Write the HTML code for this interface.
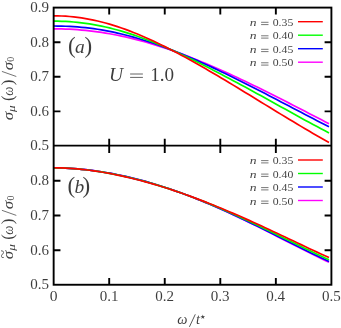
<!DOCTYPE html>
<html><head><meta charset="utf-8"><title>chart</title>
<style>
html,body{margin:0;padding:0;background:#fff;}
svg{display:block;}
text{font-family:"Liberation Serif",serif;fill:#000;}
.tx{opacity:0.76;filter:grayscale(1);}
.i{font-style:italic;}
</style></head><body>
<svg width="341" height="328" viewBox="0 0 341 328">
<rect width="341" height="328" fill="#fff"/>
<path d="M53.65,28.82 L57.64,28.85 L61.63,28.92 L65.62,29.04 L69.61,29.21 L73.60,29.44 L77.59,29.71 L81.58,30.03 L85.57,30.41 L89.57,30.83 L93.56,31.31 L97.55,31.84 L101.54,32.42 L105.53,33.05 L109.52,33.73 L113.51,34.47 L117.50,35.25 L121.49,36.08 L125.48,36.95 L129.47,37.88 L133.46,38.85 L137.45,39.87 L141.44,40.93 L145.43,42.04 L149.42,43.19 L153.41,44.39 L157.41,45.62 L161.40,46.90 L165.39,48.21 L169.38,49.57 L173.37,50.96 L177.36,52.39 L181.35,53.86 L185.34,55.35 L189.33,56.89 L193.32,58.45 L197.31,60.05 L201.30,61.68 L205.29,63.34 L209.28,65.02 L213.27,66.73 L217.26,68.47 L221.25,70.24 L225.24,72.03 L229.24,73.84 L233.23,75.68 L237.22,77.53 L241.21,79.41 L245.20,81.30 L249.19,83.22 L253.18,85.15 L257.17,87.10 L261.16,89.06 L265.15,91.03 L269.14,93.02 L273.13,95.03 L277.12,97.04 L281.11,99.06 L285.10,101.09 L289.09,103.13 L293.08,105.18 L297.08,107.23 L301.07,109.29 L305.06,111.34 L309.05,113.40 L313.04,115.47 L317.03,117.53 L321.02,119.58 L325.01,121.64 L329.00,123.69" fill="none" stroke="#ff00ff" stroke-width="1.7" stroke-linecap="butt"/>
<path d="M53.65,26.00 L57.64,26.03 L61.63,26.10 L65.62,26.23 L69.61,26.41 L73.60,26.65 L77.59,26.94 L81.58,27.29 L85.57,27.70 L89.57,28.16 L93.56,28.69 L97.55,29.27 L101.54,29.92 L105.53,30.62 L109.52,31.38 L113.51,32.20 L117.50,33.07 L121.49,34.00 L125.48,34.98 L129.47,36.02 L133.46,37.11 L137.45,38.25 L141.44,39.45 L145.43,40.69 L149.42,41.98 L153.41,43.31 L157.41,44.70 L161.40,46.12 L165.39,47.59 L169.38,49.09 L173.37,50.64 L177.36,52.22 L181.35,53.84 L185.34,55.49 L189.33,57.17 L193.32,58.89 L197.31,60.64 L201.30,62.41 L205.29,64.21 L209.28,66.04 L213.27,67.89 L217.26,69.77 L221.25,71.67 L225.24,73.58 L229.24,75.52 L233.23,77.47 L237.22,79.44 L241.21,81.43 L245.20,83.43 L249.19,85.44 L253.18,87.46 L257.17,89.50 L261.16,91.55 L265.15,93.60 L269.14,95.66 L273.13,97.73 L277.12,99.81 L281.11,101.89 L285.10,103.97 L289.09,106.06 L293.08,108.15 L297.08,110.24 L301.07,112.32 L305.06,114.41 L309.05,116.49 L313.04,118.57 L317.03,120.64 L321.02,122.71 L325.01,124.76 L329.00,126.81" fill="none" stroke="#0000ff" stroke-width="1.7" stroke-linecap="butt"/>
<path d="M53.65,21.15 L57.64,21.18 L61.63,21.28 L65.62,21.44 L69.61,21.68 L73.60,21.98 L77.59,22.36 L81.58,22.81 L85.57,23.33 L89.57,23.92 L93.56,24.59 L97.55,25.32 L101.54,26.13 L105.53,27.00 L109.52,27.94 L113.51,28.95 L117.50,30.02 L121.49,31.15 L125.48,32.35 L129.47,33.61 L133.46,34.92 L137.45,36.29 L141.44,37.71 L145.43,39.18 L149.42,40.71 L153.41,42.28 L157.41,43.89 L161.40,45.55 L165.39,47.25 L169.38,48.99 L173.37,50.76 L177.36,52.57 L181.35,54.41 L185.34,56.29 L189.33,58.19 L193.32,60.12 L197.31,62.08 L201.30,64.07 L205.29,66.07 L209.28,68.10 L213.27,70.14 L217.26,72.21 L221.25,74.29 L225.24,76.39 L229.24,78.51 L233.23,80.64 L237.22,82.78 L241.21,84.93 L245.20,87.09 L249.19,89.27 L253.18,91.45 L257.17,93.64 L261.16,95.84 L265.15,98.04 L269.14,100.25 L273.13,102.46 L277.12,104.67 L281.11,106.89 L285.10,109.11 L289.09,111.32 L293.08,113.53 L297.08,115.74 L301.07,117.94 L305.06,120.13 L309.05,122.31 L313.04,124.47 L317.03,126.62 L321.02,128.75 L325.01,130.86 L329.00,132.95" fill="none" stroke="#00ff00" stroke-width="1.7" stroke-linecap="butt"/>
<path d="M53.65,15.83 L57.64,15.87 L61.63,16.00 L65.62,16.21 L69.61,16.51 L73.60,16.89 L77.59,17.36 L81.58,17.92 L85.57,18.56 L89.57,19.29 L93.56,20.10 L97.55,20.99 L101.54,21.97 L105.53,23.02 L109.52,24.15 L113.51,25.36 L117.50,26.64 L121.49,27.99 L125.48,29.41 L129.47,30.90 L133.46,32.45 L137.45,34.06 L141.44,35.73 L145.43,37.46 L149.42,39.24 L153.41,41.08 L157.41,42.96 L161.40,44.90 L165.39,46.87 L169.38,48.89 L173.37,50.95 L177.36,53.05 L181.35,55.18 L185.34,57.34 L189.33,59.53 L193.32,61.76 L197.31,64.01 L201.30,66.28 L205.29,68.58 L209.28,70.89 L213.27,73.23 L217.26,75.58 L221.25,77.95 L225.24,80.33 L229.24,82.73 L233.23,85.13 L237.22,87.55 L241.21,89.97 L245.20,92.40 L249.19,94.84 L253.18,97.28 L257.17,99.72 L261.16,102.16 L265.15,104.61 L269.14,107.05 L273.13,109.49 L277.12,111.93 L281.11,114.36 L285.10,116.78 L289.09,119.20 L293.08,121.60 L297.08,124.00 L301.07,126.38 L305.06,128.74 L309.05,131.09 L313.04,133.42 L317.03,135.72 L321.02,138.00 L325.01,140.25 L329.00,142.47" fill="none" stroke="#ff0000" stroke-width="1.7" stroke-linecap="butt"/>
<path d="M53.65,167.95 L57.64,167.98 L61.63,168.07 L65.62,168.21 L69.61,168.41 L73.60,168.66 L77.59,168.96 L81.58,169.32 L85.57,169.72 L89.57,170.18 L93.56,170.68 L97.55,171.24 L101.54,171.84 L105.53,172.49 L109.52,173.18 L113.51,173.92 L117.50,174.71 L121.49,175.54 L125.48,176.42 L129.47,177.33 L133.46,178.30 L137.45,179.30 L141.44,180.35 L145.43,181.43 L149.42,182.56 L153.41,183.73 L157.41,184.94 L161.40,186.19 L165.39,187.48 L169.38,188.81 L173.37,190.17 L177.36,191.58 L181.35,193.02 L185.34,194.49 L189.33,196.00 L193.32,197.55 L197.31,199.13 L201.30,200.74 L205.29,202.39 L209.28,204.07 L213.27,205.78 L217.26,207.52 L221.25,209.29 L225.24,211.08 L229.24,212.91 L233.23,214.76 L237.22,216.63 L241.21,218.53 L245.20,220.44 L249.19,222.38 L253.18,224.34 L257.17,226.31 L261.16,228.30 L265.15,230.30 L269.14,232.31 L273.13,234.34 L277.12,236.37 L281.11,238.40 L285.10,240.44 L289.09,242.48 L293.08,244.52 L297.08,246.55 L301.07,248.57 L305.06,250.58 L309.05,252.58 L313.04,254.57 L317.03,256.53 L321.02,258.47 L325.01,260.38 L329.00,262.26" fill="none" stroke="#ff00ff" stroke-width="1.7" stroke-linecap="butt"/>
<path d="M53.65,167.95 L57.64,167.98 L61.63,168.06 L65.62,168.21 L69.61,168.40 L73.60,168.65 L77.59,168.96 L81.58,169.31 L85.57,169.72 L89.57,170.18 L93.56,170.68 L97.55,171.24 L101.54,171.84 L105.53,172.49 L109.52,173.18 L113.51,173.93 L117.50,174.71 L121.49,175.55 L125.48,176.42 L129.47,177.34 L133.46,178.30 L137.45,179.31 L141.44,180.36 L145.43,181.44 L149.42,182.57 L153.41,183.74 L157.41,184.95 L161.40,186.20 L165.39,187.49 L169.38,188.81 L173.37,190.18 L177.36,191.58 L181.35,193.01 L185.34,194.48 L189.33,195.99 L193.32,197.53 L197.31,199.11 L201.30,200.72 L205.29,202.35 L209.28,204.02 L213.27,205.73 L217.26,207.45 L221.25,209.21 L225.24,211.00 L229.24,212.81 L233.23,214.64 L237.22,216.50 L241.21,218.38 L245.20,220.28 L249.19,222.20 L253.18,224.13 L257.17,226.09 L261.16,228.05 L265.15,230.03 L269.14,232.02 L273.13,234.01 L277.12,236.02 L281.11,238.02 L285.10,240.03 L289.09,242.04 L293.08,244.04 L297.08,246.04 L301.07,248.02 L305.06,250.00 L309.05,251.96 L313.04,253.90 L317.03,255.82 L321.02,257.72 L325.01,259.59 L329.00,261.43" fill="none" stroke="#0000ff" stroke-width="1.7" stroke-linecap="butt"/>
<path d="M53.65,167.87 L57.64,167.90 L61.63,168.00 L65.62,168.15 L69.61,168.36 L73.60,168.62 L77.59,168.94 L81.58,169.32 L85.57,169.74 L89.57,170.22 L93.56,170.74 L97.55,171.32 L101.54,171.94 L105.53,172.61 L109.52,173.32 L113.51,174.08 L117.50,174.88 L121.49,175.72 L125.48,176.61 L129.47,177.53 L133.46,178.50 L137.45,179.51 L141.44,180.55 L145.43,181.64 L149.42,182.76 L153.41,183.92 L157.41,185.12 L161.40,186.35 L165.39,187.62 L169.38,188.92 L173.37,190.26 L177.36,191.63 L181.35,193.04 L185.34,194.47 L189.33,195.94 L193.32,197.44 L197.31,198.98 L201.30,200.54 L205.29,202.13 L209.28,203.75 L213.27,205.40 L217.26,207.07 L221.25,208.77 L225.24,210.50 L229.24,212.25 L233.23,214.02 L237.22,215.82 L241.21,217.64 L245.20,219.48 L249.19,221.33 L253.18,223.21 L257.17,225.10 L261.16,227.00 L265.15,228.92 L269.14,230.85 L273.13,232.78 L277.12,234.73 L281.11,236.68 L285.10,238.64 L289.09,240.60 L293.08,242.56 L297.08,244.51 L301.07,246.46 L305.06,248.41 L309.05,250.34 L313.04,252.26 L317.03,254.16 L321.02,256.05 L325.01,257.91 L329.00,259.75" fill="none" stroke="#00ff00" stroke-width="1.7" stroke-linecap="butt"/>
<path d="M53.65,167.76 L57.64,167.79 L61.63,167.89 L65.62,168.05 L69.61,168.28 L73.60,168.56 L77.59,168.90 L81.58,169.29 L85.57,169.74 L89.57,170.24 L93.56,170.79 L97.55,171.39 L101.54,172.03 L105.53,172.72 L109.52,173.45 L113.51,174.23 L117.50,175.05 L121.49,175.90 L125.48,176.80 L129.47,177.74 L133.46,178.71 L137.45,179.72 L141.44,180.77 L145.43,181.85 L149.42,182.97 L153.41,184.12 L157.41,185.30 L161.40,186.52 L165.39,187.77 L169.38,189.05 L173.37,190.36 L177.36,191.70 L181.35,193.07 L185.34,194.47 L189.33,195.90 L193.32,197.36 L197.31,198.85 L201.30,200.36 L205.29,201.90 L209.28,203.46 L213.27,205.05 L217.26,206.67 L221.25,208.31 L225.24,209.97 L229.24,211.66 L233.23,213.36 L237.22,215.09 L241.21,216.84 L245.20,218.61 L249.19,220.39 L253.18,222.19 L257.17,224.01 L261.16,225.84 L265.15,227.69 L269.14,229.55 L273.13,231.42 L277.12,233.29 L281.11,235.18 L285.10,237.07 L289.09,238.96 L293.08,240.85 L297.08,242.75 L301.07,244.64 L305.06,246.53 L309.05,248.41 L313.04,250.28 L317.03,252.14 L321.02,253.98 L325.01,255.80 L329.00,257.60" fill="none" stroke="#ff0000" stroke-width="1.7" stroke-linecap="butt"/>
<g stroke="#000" stroke-width="1.9" fill="none" stroke-linecap="butt">
<rect x="53.65" y="7.6" width="277.75" height="277.15"/>
<line x1="53.65" y1="145.6" x2="331.4" y2="145.6"/>
<path d="M109.20,7.6 v6.8 M109.20,138.79999999999998 v14.1 M109.20,284.75 v-6.8 M164.75,7.6 v6.8 M164.75,138.79999999999998 v14.1 M164.75,284.75 v-6.8 M220.30,7.6 v6.8 M220.30,138.79999999999998 v14.1 M220.30,284.75 v-6.8 M275.85,7.6 v6.8 M275.85,138.79999999999998 v14.1 M275.85,284.75 v-6.8 M53.65,42.20 h6.8 M331.4,42.20 h-6.8 M53.65,180.74 h6.8 M331.4,180.74 h-6.8 M53.65,76.80 h6.8 M331.4,76.80 h-6.8 M53.65,215.53 h6.8 M331.4,215.53 h-6.8 M53.65,111.40 h6.8 M331.4,111.40 h-6.8 M53.65,250.31 h6.8 M331.4,250.31 h-6.8 "/>
</g>
<g class="tx">
<g font-size="14.4" text-anchor="end">
<text x="49.1" y="11.60" textLength="18.8" lengthAdjust="spacingAndGlyphs">0.9</text>
<text x="49.1" y="46.50" textLength="18.8" lengthAdjust="spacingAndGlyphs">0.8</text>
<text x="49.1" y="81.10" textLength="18.8" lengthAdjust="spacingAndGlyphs">0.7</text>
<text x="49.1" y="115.70" textLength="18.8" lengthAdjust="spacingAndGlyphs">0.6</text>
<text x="49.1" y="149.90" textLength="18.8" lengthAdjust="spacingAndGlyphs">0.5</text>
<text x="49.1" y="185.19" textLength="18.8" lengthAdjust="spacingAndGlyphs">0.8</text>
<text x="49.1" y="219.98" textLength="18.8" lengthAdjust="spacingAndGlyphs">0.7</text>
<text x="49.1" y="254.76" textLength="18.8" lengthAdjust="spacingAndGlyphs">0.6</text>
<text x="49.1" y="289.05" textLength="18.8" lengthAdjust="spacingAndGlyphs">0.5</text>
</g>
<g font-size="14.4" text-anchor="middle">
<text x="53.55" y="301.1" textLength="7.8" lengthAdjust="spacingAndGlyphs">0</text>
<text x="109.10" y="301.1" textLength="18.8" lengthAdjust="spacingAndGlyphs">0.1</text>
<text x="164.65" y="301.1" textLength="18.8" lengthAdjust="spacingAndGlyphs">0.2</text>
<text x="220.20" y="301.1" textLength="18.8" lengthAdjust="spacingAndGlyphs">0.3</text>
<text x="275.75" y="301.1" textLength="18.8" lengthAdjust="spacingAndGlyphs">0.4</text>
<text x="331.30" y="301.1" textLength="18.8" lengthAdjust="spacingAndGlyphs">0.5</text>
</g>
<text x="67.9" y="53.1" font-size="23">(</text><text x="75.0" y="53.2" font-size="19.5" class="i">a</text><text x="84.6" y="53.1" font-size="23">)</text>
<text x="67.4" y="192.5" font-size="23">(</text><text x="74.4" y="192.6" font-size="19.5" class="i">b</text><text x="82.6" y="192.5" font-size="23">)</text>
<text x="109.0" y="80.8" font-size="19.5" class="i">U</text><path d="M130.1,74.0 h12.8 M130.1,77.4 h12.8" stroke="#000" stroke-width="0.8" fill="none"/><text x="150.2" y="80.8" font-size="19.5" textLength="23.9" lengthAdjust="spacingAndGlyphs">1.0</text>
<g fill="#222"><text x="177.3" y="324" font-size="14.4" class="i" textLength="10.2" lengthAdjust="spacingAndGlyphs">ω</text><line x1="189.4" y1="326.9" x2="195.3" y2="314.3" stroke="#000" stroke-width="0.85"/><text x="196.0" y="324" font-size="14.4" class="i">t</text><polygon points="202.80,314.40 203.36,316.13 205.18,316.13 203.70,317.19 204.27,318.92 202.80,317.85 201.33,318.92 201.90,317.19 200.42,316.13 202.24,316.13" fill="#000"/></g>
<g transform="translate(12.9,120.1) rotate(-90)" font-size="14.4"><text x="-0.2" y="0" class="i" textLength="8.4" lengthAdjust="spacingAndGlyphs">σ</text><text x="8.2" y="2.3" class="i" font-size="10" textLength="6.6" lengthAdjust="spacingAndGlyphs">μ</text><text x="19.2" y="0" font-size="17">(</text><text x="24.3" y="0" class="i" textLength="9.2" lengthAdjust="spacingAndGlyphs">ω</text><text x="34.8" y="0" font-size="17">)</text><line x1="43.6" y1="3.4" x2="48.7" y2="-11" stroke="#333" stroke-width="0.9"/><text x="49.8" y="0" class="i" textLength="8.4" lengthAdjust="spacingAndGlyphs">σ</text><text x="58.4" y="1.4" font-size="10">0</text></g>
<g transform="translate(12.9,259.0) rotate(-90)" font-size="14.4"><text x="-0.2" y="0" class="i" textLength="8.4" lengthAdjust="spacingAndGlyphs">σ</text><text x="0.4" y="-6.3" font-size="13" textLength="8.6" lengthAdjust="spacingAndGlyphs">~</text><text x="8.2" y="2.3" class="i" font-size="10" textLength="6.6" lengthAdjust="spacingAndGlyphs">μ</text><text x="19.2" y="0" font-size="17">(</text><text x="24.3" y="0" class="i" textLength="9.2" lengthAdjust="spacingAndGlyphs">ω</text><text x="34.8" y="0" font-size="17">)</text><line x1="43.6" y1="3.4" x2="48.7" y2="-11" stroke="#333" stroke-width="0.9"/><text x="49.8" y="0" class="i" textLength="8.4" lengthAdjust="spacingAndGlyphs">σ</text><text x="58.4" y="1.4" font-size="10">0</text></g>
<text x="249.8" y="25.95" font-size="10" class="i" textLength="6.8" lengthAdjust="spacingAndGlyphs">n</text><path d="M261.1,22.30 h7.4 M261.1,24.60 h7.4" stroke="#000" stroke-width="0.7" fill="none"/><text x="272.7" y="25.95" font-size="9.8" textLength="20.6" lengthAdjust="spacingAndGlyphs">0.35</text>
<text x="249.8" y="39.45" font-size="10" class="i" textLength="6.8" lengthAdjust="spacingAndGlyphs">n</text><path d="M261.1,35.80 h7.4 M261.1,38.10 h7.4" stroke="#000" stroke-width="0.7" fill="none"/><text x="272.7" y="39.45" font-size="9.8" textLength="20.6" lengthAdjust="spacingAndGlyphs">0.40</text>
<text x="249.8" y="52.95" font-size="10" class="i" textLength="6.8" lengthAdjust="spacingAndGlyphs">n</text><path d="M261.1,49.30 h7.4 M261.1,51.60 h7.4" stroke="#000" stroke-width="0.7" fill="none"/><text x="272.7" y="52.95" font-size="9.8" textLength="20.6" lengthAdjust="spacingAndGlyphs">0.45</text>
<text x="249.8" y="66.45" font-size="10" class="i" textLength="6.8" lengthAdjust="spacingAndGlyphs">n</text><path d="M261.1,62.80 h7.4 M261.1,65.10 h7.4" stroke="#000" stroke-width="0.7" fill="none"/><text x="272.7" y="66.45" font-size="9.8" textLength="20.6" lengthAdjust="spacingAndGlyphs">0.50</text>
<text x="249.8" y="164.25" font-size="10" class="i" textLength="6.8" lengthAdjust="spacingAndGlyphs">n</text><path d="M261.1,160.60 h7.4 M261.1,162.90 h7.4" stroke="#000" stroke-width="0.7" fill="none"/><text x="272.7" y="164.25" font-size="9.8" textLength="20.6" lengthAdjust="spacingAndGlyphs">0.35</text>
<text x="249.8" y="177.75" font-size="10" class="i" textLength="6.8" lengthAdjust="spacingAndGlyphs">n</text><path d="M261.1,174.10 h7.4 M261.1,176.40 h7.4" stroke="#000" stroke-width="0.7" fill="none"/><text x="272.7" y="177.75" font-size="9.8" textLength="20.6" lengthAdjust="spacingAndGlyphs">0.40</text>
<text x="249.8" y="191.25" font-size="10" class="i" textLength="6.8" lengthAdjust="spacingAndGlyphs">n</text><path d="M261.1,187.60 h7.4 M261.1,189.90 h7.4" stroke="#000" stroke-width="0.7" fill="none"/><text x="272.7" y="191.25" font-size="9.8" textLength="20.6" lengthAdjust="spacingAndGlyphs">0.45</text>
<text x="249.8" y="204.75" font-size="10" class="i" textLength="6.8" lengthAdjust="spacingAndGlyphs">n</text><path d="M261.1,201.10 h7.4 M261.1,203.40 h7.4" stroke="#000" stroke-width="0.7" fill="none"/><text x="272.7" y="204.75" font-size="9.8" textLength="20.6" lengthAdjust="spacingAndGlyphs">0.50</text>
</g>
<line x1="298" y1="21.70" x2="322.8" y2="21.70" stroke="#ff0000" stroke-width="1.4"/>
<line x1="298" y1="35.20" x2="322.8" y2="35.20" stroke="#00ff00" stroke-width="1.4"/>
<line x1="298" y1="48.70" x2="322.8" y2="48.70" stroke="#0000ff" stroke-width="1.4"/>
<line x1="298" y1="62.20" x2="322.8" y2="62.20" stroke="#ff00ff" stroke-width="1.4"/>
<line x1="298" y1="160.00" x2="322.8" y2="160.00" stroke="#ff0000" stroke-width="1.4"/>
<line x1="298" y1="173.50" x2="322.8" y2="173.50" stroke="#00ff00" stroke-width="1.4"/>
<line x1="298" y1="187.00" x2="322.8" y2="187.00" stroke="#0000ff" stroke-width="1.4"/>
<line x1="298" y1="200.50" x2="322.8" y2="200.50" stroke="#ff00ff" stroke-width="1.4"/>
</svg>
</body></html>
